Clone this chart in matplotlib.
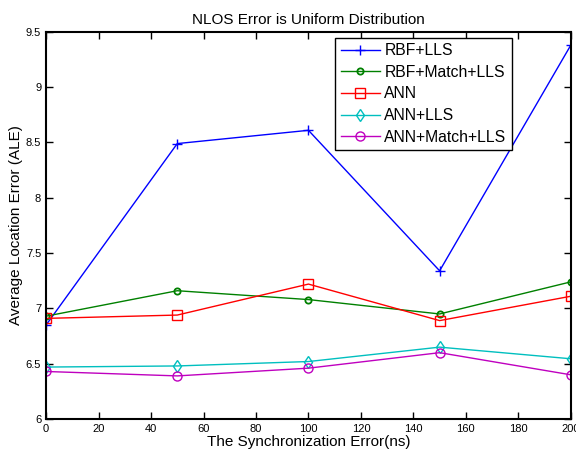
import matplotlib
matplotlib.use("Agg")
import matplotlib.pyplot as plt

plt.rcParams['font.family'] = ['Liberation Sans', 'DejaVu Sans']

sync_error = [0, 50, 100, 150, 200]

rbf_lls = [6.85, 8.49, 8.61, 7.34, 9.38]
rbf_match_lls = [6.93, 7.16, 7.08, 6.95, 7.24]
ann = [6.91, 6.94, 7.22, 6.89, 7.11]
ann_lls = [6.47, 6.48, 6.52, 6.65, 6.545]
ann_match_lls = [6.43, 6.39, 6.46, 6.60, 6.40]

series = [
    ("RBF+LLS", rbf_lls, "b", "+"),
    ("RBF+Match+LLS", rbf_match_lls, (0, 0.5, 0), "o"),
    ("ANN", ann, "r", "s"),
    ("ANN+LLS", ann_lls, "c", "d"),
    ("ANN+Match+LLS", ann_match_lls, "m", "o"),
]

fig = plt.figure(figsize=(5.76, 4.55), dpi=100)
ax = fig.add_axes([0.080, 0.079, 0.911, 0.851])

for i, (name, vals, col, mk) in enumerate(series):
    size = 4.5 if i == 1 else 6.5
    ew = 1.3 if i == 1 else 1
    ax.plot(sync_error, vals, color=col, marker=mk, markersize=size,
            markerfacecolor="none", markeredgewidth=ew, linewidth=1, label=name)

ax.set_xlim(0, 200)
ax.set_ylim(6, 9.5)
ax.set_xticks(range(0, 201, 20))
ax.set_yticks([6, 6.5, 7, 7.5, 8, 8.5, 9, 9.5])
ax.set_yticklabels(["6", "6.5", "7", "7.5", "8", "8.5", "9", "9.5"])
ax.tick_params(direction="in", top=True, right=True, labelsize=8, length=5, width=1)
for s in ax.spines.values():
    s.set_linewidth(1.5)

ax.set_title("NLOS Error is Uniform Distribution", fontsize=11)
ax.set_xlabel("The Synchronization Error(ns)", fontsize=11, labelpad=1)
ax.set_ylabel("Average Location Error (ALE)", fontsize=11, labelpad=2)

leg = ax.legend(loc="upper right", bbox_to_anchor=(0.889, 0.917),
                bbox_transform=fig.transFigure, borderaxespad=0,
                fontsize=11.3, fancybox=False, edgecolor="black", framealpha=1,
                borderpad=0.35, labelspacing=0.42, handlelength=2.5,
                handletextpad=0.3)
leg.get_frame().set_linewidth(1)

fig.savefig("out.png", dpi=100)
